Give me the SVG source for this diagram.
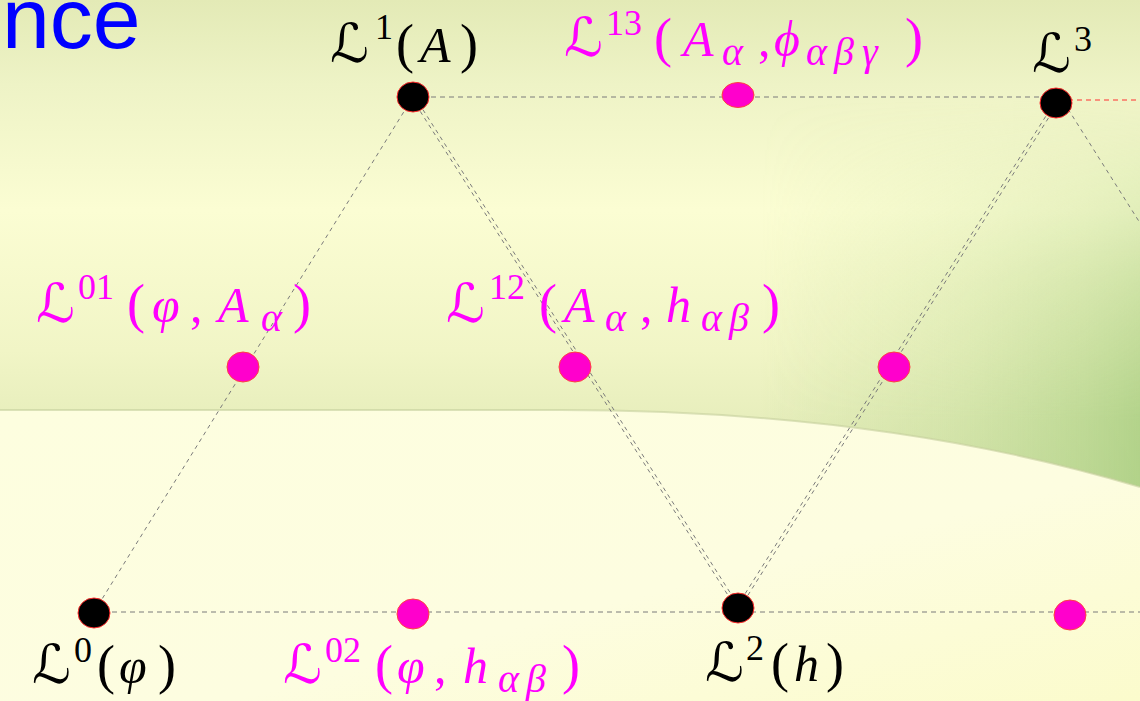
<svg xmlns="http://www.w3.org/2000/svg" width="1140" height="701" viewBox="0 0 1140 701">
<defs>
  <linearGradient id="bgTop" x1="0" y1="0" x2="0" y2="1">
    <stop offset="0" stop-color="#e3eab6"/>
    <stop offset="0.12" stop-color="#eef3c6"/>
    <stop offset="0.3" stop-color="#fbfdd3"/>
    <stop offset="0.5" stop-color="#f1f5c6"/>
    <stop offset="0.66" stop-color="#e1eab6"/>
    <stop offset="0.82" stop-color="#d5e3ac"/>
    <stop offset="1" stop-color="#cddca4"/>
  </linearGradient>
  <linearGradient id="bgBot" x1="0" y1="0" x2="1" y2="1">
    <stop offset="0" stop-color="#fdfedf"/>
    <stop offset="0.6" stop-color="#fdfde0"/>
    <stop offset="1" stop-color="#fbfbcc"/>
  </linearGradient>
  <linearGradient id="rightGreen" x1="0" y1="0" x2="1" y2="0">
    <stop offset="0" stop-color="#b4d48c" stop-opacity="0"/>
    <stop offset="0.5" stop-color="#b4d48c" stop-opacity="0.35"/>
    <stop offset="1" stop-color="#a6cc7e" stop-opacity="0.8"/>
  </linearGradient>
  <linearGradient id="fadeV" x1="0" y1="0" x2="0" y2="1">
    <stop offset="0" stop-color="#fff" stop-opacity="0"/>
    <stop offset="0.45" stop-color="#fff" stop-opacity="0.6"/>
    <stop offset="0.8" stop-color="#fff" stop-opacity="1"/>
    <stop offset="1" stop-color="#fff" stop-opacity="1"/>
  </linearGradient>
  <mask id="mV" maskUnits="userSpaceOnUse" x="0" y="0" width="1140" height="701">
    <rect x="0" y="100" width="1140" height="400" fill="url(#fadeV)"/>
  </mask>
  <clipPath id="band">
    <path d="M0,0 H1140 V487 C950,430 750,410 560,410 H0 Z"/>
  </clipPath>
  <style>
    .ln { stroke: #7a7a7a; stroke-width: 1; fill: none; stroke-dasharray: 4 4; }
    .hz { stroke: #7a7a7a; stroke-width: 1; fill: none; stroke-dasharray: 5 4; }
    .red { stroke: #ff3030; stroke-width: 1; fill: none; stroke-dasharray: 5 4; }
    .blk { fill: #000; stroke: #ff2a2a; stroke-width: 1; }
    .pnk { fill: #ff00cc; stroke: #ff4040; stroke-width: 1; }
    .m { font-family: "Liberation Serif", serif; font-size: 50px; }
    .i { font-style: italic; }
    .p { font-size: 54px; font-style: normal; }
    .s { font-size: 36px; }
    .b { font-size: 40px; }
    .cal { font-family: "DejaVu Serif", "DejaVu Sans", serif; font-style: italic; font-size: 54px; }
    .blkT { fill: #000; }
    .magT { fill: #ff00ff; }
  </style>
</defs>

<!-- background -->
<rect x="0" y="0" width="1140" height="701" fill="url(#bgTop)"/>
<g clip-path="url(#band)">
  <rect x="760" y="100" width="380" height="400" fill="url(#rightGreen)" mask="url(#mV)"/>
</g>
<path d="M0,410 H560 C750,410 950,430 1140,487 V701 H0 Z" fill="url(#bgBot)"/>
<path d="M0,410 H560 C750,410 950,430 1140,487" fill="none" stroke="#c4cf9c" stroke-width="2" opacity="0.6"/>

<text x="2" y="48" font-family="Liberation Sans, Arial, sans-serif" font-size="86" fill="#0000ff">nce</text>

<g id="connectors">
  <line class="ln" x1="94" y1="612" x2="413" y2="97"/>
  <line class="ln" x1="414.35" y1="96.14" x2="739.35" y2="607.14"/>
  <line class="ln" x1="411.65" y1="97.86" x2="736.65" y2="608.86"/>
  <line class="ln" x1="739.35" y1="608.85" x2="1057.35" y2="103.85"/>
  <line class="ln" x1="736.65" y1="607.15" x2="1054.65" y2="102.15"/>
  <line class="ln" x1="1068" y1="109" x2="1140" y2="223"/>
  <line class="hz" x1="413" y1="97" x2="1045" y2="97"/>
  <line class="red" x1="1068" y1="100" x2="1140" y2="100"/>
  <line class="hz" x1="94" y1="612" x2="1140" y2="612"/>
</g>

<g id="L1">
  <ellipse class="blk" cx="413" cy="97" rx="16" ry="15"/>
  <text class="m blkT">
    <tspan class="cal" x="330" y="62">ℒ</tspan><tspan class="s" x="375" y="39">1</tspan><tspan class="p" x="396" y="62">(</tspan><tspan class="i" x="420" y="62">A</tspan><tspan class="p" x="460" y="62">)</tspan>
  </text>
</g>

<g id="L13">
  <ellipse class="pnk" cx="738" cy="95" rx="16" ry="12.5"/>
  <text class="m magT">
    <tspan class="cal" x="564" y="56">ℒ</tspan><tspan class="s" x="606" y="35">13</tspan><tspan class="p" x="654" y="56">(</tspan><tspan class="i" x="683" y="56">A</tspan><tspan class="i b" x="722" y="65">α</tspan><tspan x="758" y="56">,</tspan><tspan class="i" x="774" y="56">ϕ</tspan><tspan class="i b" x="806" y="65">α</tspan><tspan class="i b" x="834" y="65">β</tspan><tspan class="i b" x="862" y="65">γ</tspan><tspan class="p" x="905" y="56">)</tspan>
  </text>
</g>

<g id="L3">
  <ellipse class="blk" cx="1056" cy="103" rx="16" ry="15"/>
  <text class="m blkT">
    <tspan class="cal" x="1032" y="72">ℒ</tspan><tspan class="s" x="1074" y="51">3</tspan>
  </text>
</g>

<g id="L01">
  <ellipse class="pnk" cx="243" cy="367" rx="16" ry="15"/>
  <text class="m magT">
    <tspan class="cal" x="36" y="322">ℒ</tspan><tspan class="s" x="78" y="299">01</tspan><tspan class="p" x="127" y="322">(</tspan><tspan class="i" x="152" y="322">φ</tspan><tspan x="190" y="322">,</tspan><tspan class="i" x="218" y="322">A</tspan><tspan class="i b" x="261" y="331">α</tspan><tspan class="p" x="293" y="322">)</tspan>
  </text>
</g>

<g id="L12">
  <ellipse class="pnk" cx="575" cy="367" rx="16" ry="15"/>
  <text class="m magT">
    <tspan class="cal" x="446" y="322">ℒ</tspan><tspan class="s" x="489" y="299">12</tspan><tspan class="p" x="539" y="322">(</tspan><tspan class="i" x="564" y="322">A</tspan><tspan class="i b" x="605" y="331">α</tspan><tspan x="640" y="322">,</tspan><tspan class="i" x="666" y="322">h</tspan><tspan class="i b" x="701" y="331">α</tspan><tspan class="i b" x="729" y="331">β</tspan><tspan class="p" x="762" y="322">)</tspan>
  </text>
</g>

<g id="L23">
  <ellipse class="pnk" cx="894" cy="367" rx="16" ry="15"/>
</g>

<g id="L0">
  <ellipse class="blk" cx="94" cy="613" rx="16" ry="15"/>
  <text class="m blkT">
    <tspan class="cal" x="32" y="683">ℒ</tspan><tspan class="s" x="74" y="662">0</tspan><tspan class="p" x="97" y="683">(</tspan><tspan class="i" x="119" y="683">φ</tspan><tspan class="p" x="158" y="683">)</tspan>
  </text>
</g>

<g id="L02">
  <ellipse class="pnk" cx="413" cy="614" rx="16" ry="15"/>
  <text class="m magT">
    <tspan class="cal" x="283" y="683">ℒ</tspan><tspan class="s" x="325" y="662">02</tspan><tspan class="p" x="375" y="683">(</tspan><tspan class="i" x="397" y="683">φ</tspan><tspan x="434" y="683">,</tspan><tspan class="i" x="463" y="683">h</tspan><tspan class="i b" x="498" y="692">α</tspan><tspan class="i b" x="526" y="692">β</tspan><tspan class="p" x="562" y="683">)</tspan>
  </text>
</g>

<g id="L2">
  <ellipse class="blk" cx="738" cy="608" rx="16" ry="15"/>
  <text class="m blkT">
    <tspan class="cal" x="705" y="681">ℒ</tspan><tspan class="s" x="746" y="660">2</tspan><tspan class="p" x="771" y="681">(</tspan><tspan class="i" x="794" y="681">h</tspan><tspan class="p" x="826" y="681">)</tspan>
  </text>
</g>

<g id="L03">
  <ellipse class="pnk" cx="1070" cy="615" rx="16" ry="15"/>
</g>
</svg>
